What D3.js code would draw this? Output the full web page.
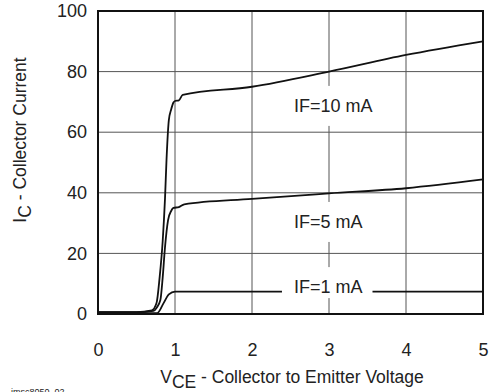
<!DOCTYPE html>
<html>
<head>
<meta charset="utf-8">
<script src="https://cdn.jsdelivr.net/npm/d3@7"></script>
<style>
  body { margin: 0; background: #fff; }
  text { font-family: "Liberation Sans", Arial, sans-serif; fill: #222; }
</style>
</head>
<body>
<div id="chart"></div>
<script>
// Output characteristics, IC vs VCE for three forward currents
const xTicks = [0, 1, 2, 3, 4, 5];
const yTicks = [0, 20, 40, 60, 80, 100];

const vce10 = [0, 0.5, 0.7, 0.76, 0.8, 0.84, 0.87, 0.89, 0.92, 0.95, 0.98, 1.0, 1.05, 1.1, 2, 3, 4, 5];
const ic10 = [0.6, 0.6, 1.2, 3.6, 12, 24, 38, 51, 64, 67.5, 69.8, 70.3, 70.5, 72.3, 75, 80, 85.5, 90];

const vce5 = [0, 0.5, 0.72, 0.76, 0.81, 0.84, 0.87, 0.91, 0.95, 0.98, 1.05, 1.12, 2, 3, 4, 5];
const ic5 = [0.6, 0.6, 1, 2, 4.6, 12, 22, 31, 34, 35, 35.3, 36.2, 38, 39.8, 41.5, 44.4];

const vce1 = [0, 0.5, 0.77, 0.85, 0.92, 1.0, 5];
const ic1 = [0.3, 0.3, 0.3, 3.5, 6.5, 7.4, 7.4];

const seriesNames = ["IF=10 mA", "IF=5 mA", "IF=1 mA"];
const labelPos = [[2.545, 66.7], [2.545, 28.4], [2.545, 6.9]];

const width = 491;
const height = 392;
const margin = { top: 11, right: 8, bottom: 78, left: 98 };

const svg = d3.select("#chart")
  .append("svg")
  .attr("width", width)
  .attr("height", height);

const x = d3.scaleLinear().domain([0, 5]).range([margin.left, width - margin.right]);
const y = d3.scaleLinear().domain([0, 100]).range([height - margin.bottom, margin.top]);

// grid
svg.append("g")
  .selectAll("line.v")
  .data(xTicks.slice(1, -1))
  .join("line")
  .attr("x1", d => x(d)).attr("x2", d => x(d))
  .attr("y1", y(100)).attr("y2", y(0))
  .attr("stroke", "#555").attr("stroke-width", 1);

svg.append("g")
  .selectAll("line.h")
  .data(yTicks.slice(1, -1))
  .join("line")
  .attr("x1", x(0)).attr("x2", x(5))
  .attr("y1", d => y(d)).attr("y2", d => y(d))
  .attr("stroke", "#555").attr("stroke-width", 1);

// curves
const line = d3.line()
  .x(d => x(d[0]))
  .y(d => y(d[1]))
  .curve(d3.curveMonotoneX);

[[vce10, ic10], [vce5, ic5], [vce1, ic1]].forEach(([xs, ys]) => {
  svg.append("path")
    .datum(xs.map((v, i) => [v, ys[i]]))
    .attr("fill", "none")
    .attr("stroke", "#111")
    .attr("stroke-width", 1.8)
    .attr("d", line);
});

// series labels on white boxes
seriesNames.forEach((name, i) => {
  const g = svg.append("g");
  const t = g.append("text")
    .attr("x", x(labelPos[i][0]))
    .attr("y", y(labelPos[i][1]))
    .attr("font-size", 18)
    .text(name);
  const b = t.node().getBBox();
  const padB = i === 2 ? 1 : 10;
  g.insert("rect", "text")
    .attr("x", b.x - 12)
    .attr("y", b.y - 10)
    .attr("width", b.width + 22)
    .attr("height", b.height + 10 + padB)
    .attr("fill", "#fff");
});

// frame
svg.append("rect")
  .attr("x", x(0)).attr("y", y(100))
  .attr("width", x(5) - x(0)).attr("height", y(0) - y(100))
  .attr("fill", "none").attr("stroke", "#111").attr("stroke-width", 2);

// axes
const xAxis = svg.append("g")
  .attr("transform", `translate(0,${y(0)})`)
  .call(d3.axisBottom(x).tickValues(xTicks).tickFormat(d3.format("d")).tickSize(0).tickPadding(29));
const yAxis = svg.append("g")
  .attr("transform", `translate(${x(0)},0)`)
  .call(d3.axisLeft(y).tickValues(yTicks).tickFormat(d3.format("d")).tickSize(0).tickPadding(11));
[xAxis, yAxis].forEach(a => {
  a.select(".domain").remove();
  a.selectAll("text").attr("font-size", 18).attr("fill", "#222")
    .attr("font-family", "Liberation Sans, Arial, sans-serif");
});

// axis titles
const xt = svg.append("text")
  .attr("x", 292).attr("y", 383)
  .attr("text-anchor", "middle")
  .attr("font-size", 17.5);
xt.append("tspan").text("V");
xt.append("tspan").attr("dy", 5).text("CE");
xt.append("tspan").attr("dy", -5).text(" - Collector to Emitter Voltage");

const yt = svg.append("text")
  .attr("transform", "translate(26,140) rotate(-90)")
  .attr("text-anchor", "middle")
  .attr("font-size", 17.5);
yt.append("tspan").text("I");
yt.append("tspan").attr("dy", 5).text("C");
yt.append("tspan").attr("dy", -5).text(" - Collector Current");

// figure id
svg.append("text")
  .attr("x", 11).attr("y", 395)
  .attr("font-size", 9)
  .text("imsc8050_02");
</script>
</body>
</html>
